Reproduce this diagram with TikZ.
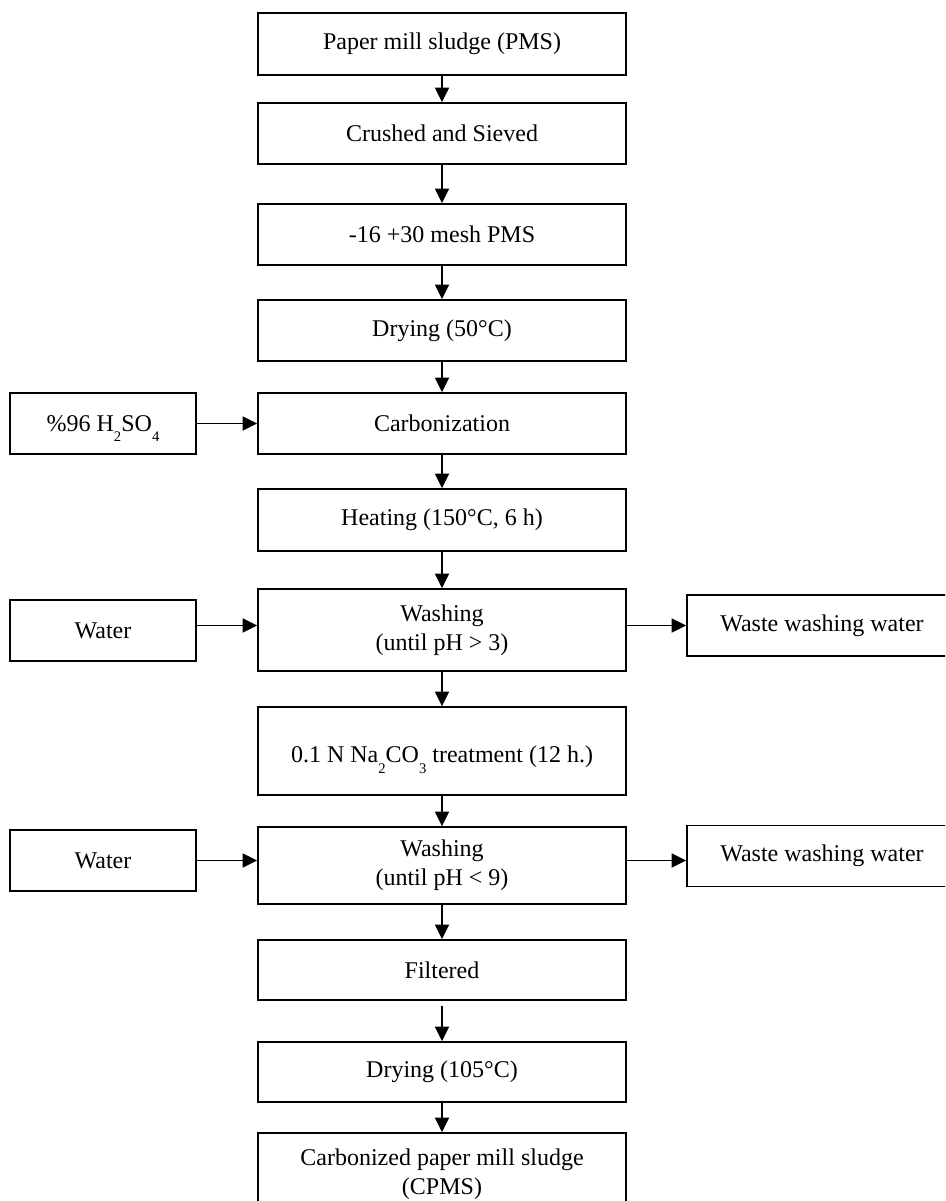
\documentclass[tikz,border=0pt]{standalone}
\usepackage{fontspec}
\setmainfont{Liberation Serif}
\usepackage{tikz}
\usetikzlibrary{arrows.meta,positioning}
\newcommand{\lowsub}[1]{\raisebox{-8pt}[0pt][0pt]{\fontsize{11}{11}\selectfont #1}}
\tikzset{
  stage/.style ={draw,line width=1.2pt,minimum width=276pt,inner sep=0pt,align=center,
                 font=\fontsize{18}{21.5}\selectfont},
  feed/.style  ={stage,minimum width=139.5pt,minimum height=45.75pt},
  waste/.style ={stage,minimum width=202.5pt,minimum height=45.5pt},
  ar/.style    ={-{Triangle[length=11pt,width=10.5pt]},line width=1.3pt},
}

\begin{document}
\begin{tikzpicture}[x=0.75pt,y=-0.75pt]
  \clip (0,0) rectangle (945,1201);
  % main line
  \node[stage,minimum height=46.5pt]  (pms)   at (442,44)    {Paper mill sludge (PMS)};
  \node[stage,minimum height=45.75pt] (crush) at (442,133.5) {Crushed and Sieved};
  \node[stage,minimum height=45.75pt] (mesh)  at (442,234.5) {-16 +30 mesh PMS};
  \node[stage,minimum height=45.75pt] (dry1)  at (442,330.5) {Drying (50°C)};
  \node[stage,minimum height=45.75pt] (carb)  at (442,423.5) {Carbonization};
  \node[stage,minimum height=46.5pt]  (heat)  at (442,520)   {Heating (150°C, 6 h)};
  \node[stage,minimum height=61.5pt]  (wash1) at (442,630)   {Washing\\(until pH > 3)};
  \node[stage,minimum height=66pt]    (naco)  at (442,751)   {\mbox{}\\0.1 N Na\lowsub{2}CO\lowsub{3} treatment (12 h.)};
  \node[stage,minimum height=57.75pt] (wash2) at (442,865.5) {Washing\\(until pH < 9)};
  \node[stage,minimum height=45pt]    (filt)  at (442,970)   {Filtered};
  \node[stage,minimum height=45pt]    (dry2)  at (442,1072)  {Drying (105°C)};
  \node[stage,minimum height=61.5pt]  (cpms)  at (442,1174)  {Carbonized paper mill sludge\\(CPMS)};
  % inputs and outputs
  \node[feed]  (acid)   at (103,423.5) {\%96 H\lowsub{2}SO\lowsub{4}};
  \node[feed]  (water1) at (103,630.5) {Water};
  \node[feed]  (water2) at (103,860.5) {Water};
  \node[waste] (waste1) at (822,625.5) {Waste washing water};
  \node[waste] (waste2) at (822,856)   {Waste washing water};

  \draw[ar] (pms) -- (crush);
  \draw[ar] (crush) -- (mesh);
  \draw[ar] (mesh) -- (dry1);
  \draw[ar] (dry1) -- (carb);
  \draw[ar] (carb) -- (heat);
  \draw[ar] (heat) -- (wash1);
  \draw[ar] (wash1) -- (naco);
  \draw[ar] (naco) -- (wash2);
  \draw[ar] (wash2) -- (filt);
  \draw[ar,shorten <=4pt] (filt) -- (dry2);
  \draw[ar] (dry2) -- (cpms);

  \draw[ar] (acid) -- (carb);
  \draw[ar] (water1.east |- waste1) -- (wash1.west |- waste1);
  \draw[ar] (wash1.east |- waste1) -- (waste1);
  \draw[ar] (water2) -- (wash2.west |- water2);
  \draw[ar] (wash2.east |- water2) -- (waste2.west |- water2);
\end{tikzpicture}
\end{document}
